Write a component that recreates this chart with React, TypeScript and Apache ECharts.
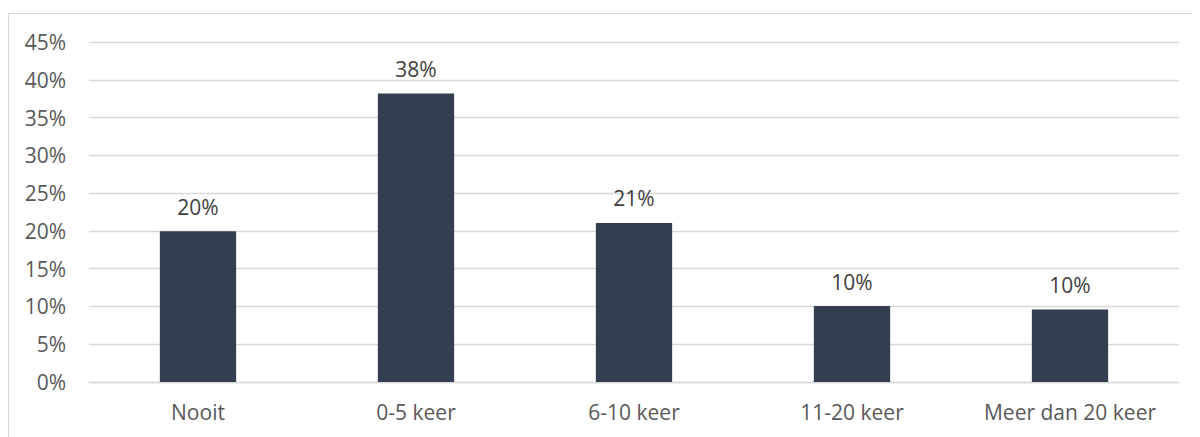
import React, { useEffect, useRef } from "react";
import * as echarts from "echarts";

const categories = ["Nooit", "0-5 keer", "6-10 keer", "11-20 keer", "Meer dan 20 keer"];
const values = [19.95, 38.2, 21.05, 10.05, 9.6];
const labels = ["20%", "38%", "21%", "10%", "10%"];

export default function App() {
  const ref = useRef<HTMLDivElement>(null);
  useEffect(() => {
    if (!ref.current) return;
    const chart = echarts.init(ref.current, null, { renderer: "svg" });
    const font = "'Open Sans', sans-serif";
    chart.setOption({
      animation: false,
      textStyle: { fontFamily: font },
      grid: { left: 81, right: 21, top: 34, bottom: 55, containLabel: false },
      graphic: [
        { type: "line", shape: { x1: 0.5, y1: 5.5, x2: 1192, y2: 5.5 }, style: { stroke: "#d9d9d9", lineWidth: 1 } },
        { type: "line", shape: { x1: 0.5, y1: 5.5, x2: 0.5, y2: 429 }, style: { stroke: "#d9d9d9", lineWidth: 1 } },
      ],
      xAxis: {
        type: "category",
        data: categories,
        axisLine: { show: true, lineStyle: { color: "#d9d9d9", width: 1.4 } },
        axisTick: { show: false },
        axisLabel: { color: "#595959", fontSize: 21, margin: 19, fontFamily: font, interval: 0, hideOverlap: false },
      },
      yAxis: {
        type: "value",
        min: 0,
        max: 45,
        interval: 5,
        axisLine: { show: false },
        axisTick: { show: false },
        splitLine: { lineStyle: { color: "#d9d9d9", width: 1.4 } },
        axisLabel: { color: "#595959", fontSize: 21, margin: 23, fontFamily: font, formatter: "{value}%" },
      },
      series: [
        {
          type: "bar",
          data: values,
          barWidth: "35%",
          itemStyle: { color: "#333f50" },
          label: {
            show: true,
            position: "top",
            distance: 14,
            color: "#404040",
            fontSize: 21,
            fontFamily: font,
            formatter: (p: any) => labels[p.dataIndex],
          },
        },
      ],
    });
    return () => chart.dispose();
  }, []);
  return <div ref={ref} style={{ width: 1192, height: 429 }} />;
}
